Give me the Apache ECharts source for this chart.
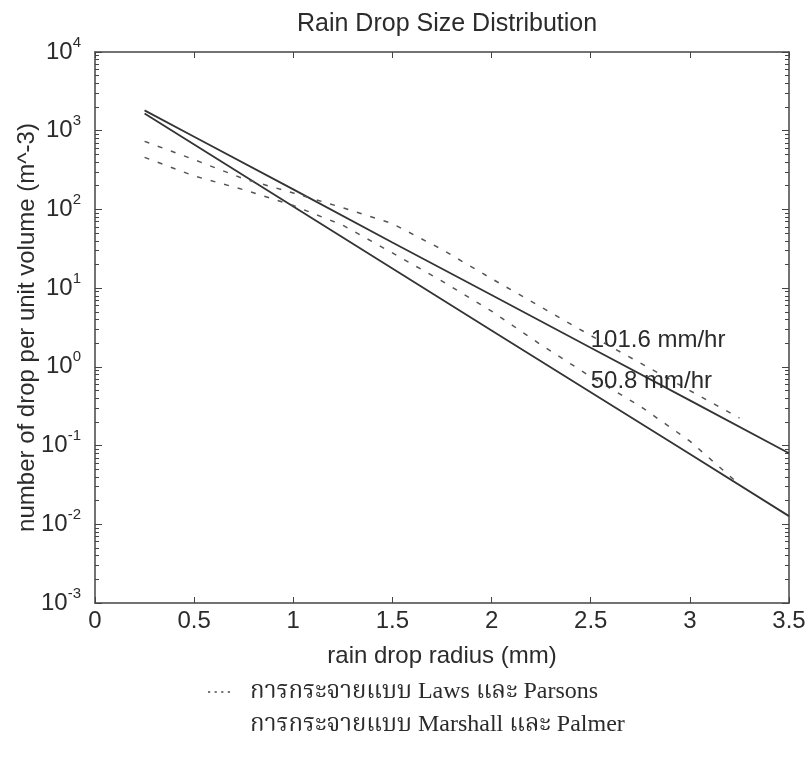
<!DOCTYPE html>
<html>
<head>
<meta charset="utf-8">
<script src="https://cdn.jsdelivr.net/npm/echarts@6/dist/echarts.min.js"></script>
<style>
  html, body { margin: 0; padding: 0; background: #fff; }
  #chart { width: 812px; height: 765px; }
</style>
</head>
<body>
<div id="chart"></div>
<script>
const titleText = 'Rain Drop Size Distribution';
const xName = 'rain drop radius (mm)';
const yName = 'number of drop per unit volume (m^-3)';
const mpName = 'การกระจายแบบ Marshall และ Palmer';
const lpName = 'การกระจายแบบ Laws และ Parsons';
const rateLabels = ['101.6 mm/hr', '50.8 mm/hr'];

// Marshall-Palmer (solid lines)
const mpRadius = [0.25, 0.5, 1, 1.5, 2, 2.5, 3, 3.5];
const mp1016 = [1815, 840, 180, 38, 8.2, 1.75, 0.375, 0.080];
const mp508 = [1650, 667, 109, 17.8, 2.9, 0.476, 0.078, 0.0127];

// Laws-Parsons (dashed lines)
const lpRadius = [0.25, 0.5, 0.75, 1, 1.25, 1.5, 1.75, 2, 2.25, 2.5, 2.75, 3, 3.25];
const lp1016 = [733, 429, 245, 162, 105, 66, 31, 13.2, 5.75, 2.5, 1.12, 0.50, 0.224];
const lp508 = [458, 266, 178, 112, 63, 28, 12.3, 5.1, 1.9, 0.75, 0.316, 0.114, 0.032];

const yExponents = [-3, -2, -1, 0, 1, 2, 3, 4];
const minorFactors = [2, 3, 4, 5, 6, 7, 8, 9];

const majorTicks = yExponents.map((e) => Math.pow(10, e));
const minorTicks = [];
yExponents.slice(0, -1).forEach((e) => {
    minorFactors.forEach((f) => minorTicks.push(f * Math.pow(10, e)));
});

const pairs = (xs, ys) => xs.map((x, i) => [x, ys[i]]);

const font = '"Liberation Sans", Arial, sans-serif';
const ink = '#2b2b2b';
const frame = '#444';

const logAxis = (position, ticks, len, withLine, withLabels) => ({
    type: 'log',
    logBase: 10,
    min: 1e-3,
    max: 1e4,
    position: position,
    axisLine: { show: withLine, lineStyle: { color: frame, width: 1.5 } },
    axisTick: { show: true, inside: true, length: len, customValues: ticks, lineStyle: { color: frame, width: 1 } },
    axisLabel: withLabels ? {
        show: true,
        customValues: majorTicks,
        margin: 14,
        formatter: (v) => '{b|10}{s|' + Math.round(Math.log10(v)) + '}',
        rich: {
            b: { fontSize: 24, fontFamily: font, color: ink, lineHeight: 34 },
            s: { fontSize: 15, fontFamily: font, color: ink, lineHeight: 10, verticalAlign: 'top' },
        },
    } : { show: false },
    splitLine: { show: false },
});

const chart = echarts.init(document.getElementById('chart'), null, { renderer: 'canvas' });

chart.setOption({
    backgroundColor: '#fff',
    animation: false,
    title: {
        text: titleText,
        left: 292,
        top: 7,
        textStyle: { fontSize: 25, fontWeight: 'normal', fontFamily: font, color: ink },
    },
    grid: { left: 95, right: 23, top: 52, bottom: 162 },
    legend: {
        orient: 'vertical',
        left: 203,
        top: 675,
        itemWidth: 22,
        itemHeight: 14,
        itemGap: 9,
        selectedMode: false,
        textStyle: { fontSize: 24, fontFamily: '"Liberation Serif", "Noto Serif Thai", "Noto Sans Thai", serif', color: ink, padding: [0, 0, 0, 15] },
        data: [
            { name: lpName, icon: 'path://M0,0h2v2h-2zM6,0h2v2h-2zM12,0h2v2h-2zM18,0h2v2h-2z' },
            { name: mpName, icon: 'none' },
        ],
    },
    xAxis: [
        {
            type: 'value',
            min: 0,
            max: 3.5,
            interval: 0.5,
            position: 'bottom',
            name: xName,
            nameLocation: 'middle',
            nameGap: 41,
            nameTextStyle: { fontSize: 24, fontFamily: font, color: ink },
            axisLine: { lineStyle: { color: frame, width: 1.5 } },
            axisTick: { inside: true, length: 6, lineStyle: { color: frame } },
            axisLabel: { fontSize: 24, fontFamily: font, color: ink, margin: 6 },
            splitLine: { show: false },
        },
        {
            type: 'value',
            min: 0,
            max: 3.5,
            interval: 0.5,
            position: 'top',
            axisLine: { lineStyle: { color: frame, width: 1.5 } },
            axisTick: { inside: true, length: 6, lineStyle: { color: frame } },
            axisLabel: { show: false },
            splitLine: { show: false },
        },
    ],
    yAxis: [
        Object.assign(logAxis('left', majorTicks, 7, true, true), {
            name: yName,
            nameLocation: 'middle',
            nameGap: 56,
            nameMoveOverlap: false,
            nameTextStyle: { fontSize: 24, fontFamily: font, color: ink },
        }),
        logAxis('left', minorTicks, 4, false, false),
        logAxis('right', majorTicks, 7, true, false),
        logAxis('right', minorTicks, 4, false, false),
    ],
    series: [
        {
            name: mpName,
            type: 'line',
            data: pairs(mpRadius, mp1016),
            showSymbol: false,
            color: '#333',
            lineStyle: { width: 1.8, color: '#333' },
            markPoint: {
                symbolSize: 0,
                label: { show: true, position: 'right', distance: 0, fontSize: 24, fontFamily: font, color: ink },
                data: [
                    { coord: [2.5, 2.2], label: { formatter: rateLabels[0] } },
                    { coord: [2.5, 0.66], label: { formatter: rateLabels[1] } },
                ],
            },
        },
        {
            name: mpName,
            type: 'line',
            data: pairs(mpRadius, mp508),
            showSymbol: false,
            color: '#333',
            lineStyle: { width: 1.8, color: '#333' },
        },
        {
            name: lpName,
            type: 'line',
            data: pairs(lpRadius, lp1016),
            showSymbol: false,
            color: '#777',
            lineStyle: { width: 1.5, color: '#555', type: [5, 9] },
        },
        {
            name: lpName,
            type: 'line',
            data: pairs(lpRadius, lp508),
            showSymbol: false,
            color: '#777',
            lineStyle: { width: 1.5, color: '#555', type: [5, 9] },
        },
    ],
});
</script>
</body>
</html>
